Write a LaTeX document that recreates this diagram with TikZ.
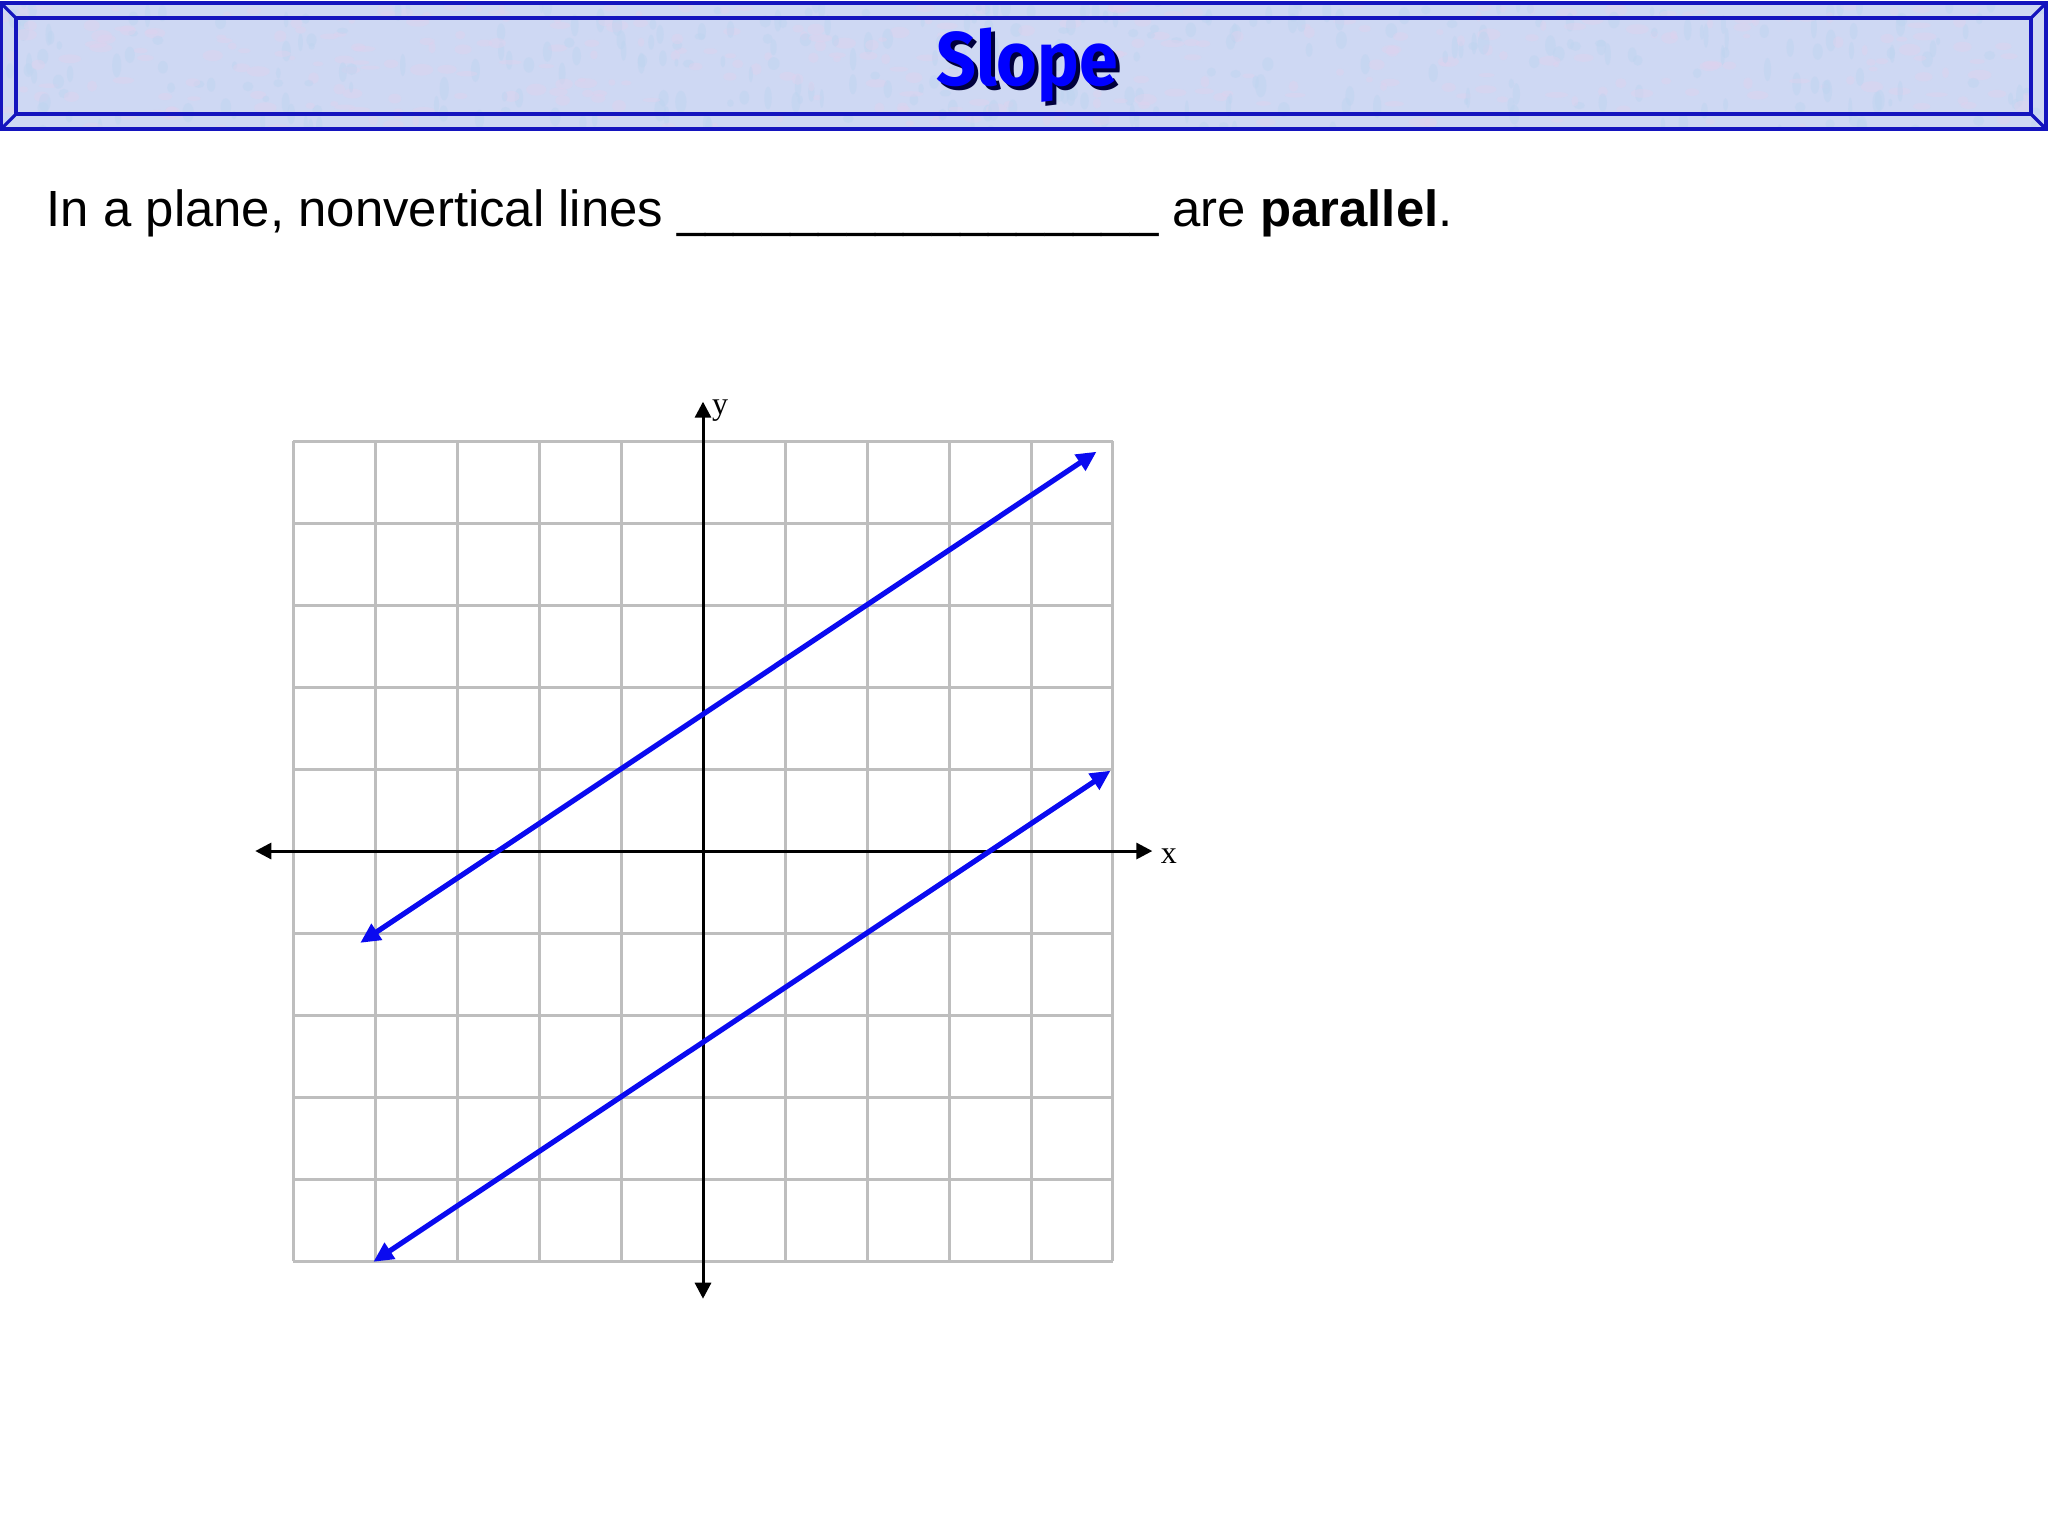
\documentclass[tikz,border=0pt]{standalone}
\usepackage{fontspec}
\setmainfont{Liberation Sans}
\newfontfamily\titlefont{Fira Sans}
\newfontfamily\serifaxis{Liberation Serif}
\usetikzlibrary{arrows.meta}
\definecolor{barfill}{RGB}{206,216,243}
\definecolor{barpink}{RGB}{222,210,238}
\definecolor{barblue}{RGB}{190,212,240}
\definecolor{barline}{RGB}{20,20,190}
\definecolor{gridc}{RGB}{190,190,190}
\definecolor{lineblue}{RGB}{10,10,240}
\definecolor{shadowc}{RGB}{0,0,60}
\tikzset{
  barframe/.style={draw=barline, line width=0.8pt},
  gridlines/.style={draw=gridc, line width=0.75pt},
  axisline/.style={draw=black, line width=0.75pt, {Triangle[length=4pt,width=4pt]}-{Triangle[length=4pt,width=4pt]}},
  bluearrow/.style={draw=lineblue, line width=1.3pt, {Triangle[length=5pt,width=4.6pt]}-{Triangle[length=5pt,width=4.6pt]}},
  axislabel/.style={font=\serifaxis\fontsize{8pt}{9pt}\selectfont, inner sep=0pt},
  titletext/.style={font=\titlefont\bfseries\fontsize{19pt}{22pt}\selectfont, inner sep=0pt}
}
\begin{document}
\begin{tikzpicture}[x=0.25pt,y=-0.25pt]
\useasboundingbox (0,0) rectangle (2048,1536);
\fill[white] (0,0) rectangle (2048,1536);
% title bar
\fill[barfill] (1,3) rectangle (2046,129);
\begin{scope}
  \clip (1,3) rectangle (2046,129);
  \pgfmathsetseed{7}
  \foreach \i in {1,...,700} {
    \pgfmathsetmacro{\px}{rnd*2048}
    \pgfmathsetmacro{\py}{rnd*132}
    \pgfmathsetmacro{\rx}{3+rnd*9}
    \pgfmathsetmacro{\ry}{2+rnd*4}
    \pgfmathsetmacro{\pick}{rnd}
    \ifdim\pick pt<0.5pt
      \fill[barpink, opacity=0.45] (\px,\py) ellipse [x radius=\rx, y radius=\ry];
    \else
      \fill[barblue, opacity=0.45] (\px,\py) ellipse [x radius=\ry, y radius=\rx];
    \fi
  }
\end{scope}
\draw[barframe] (1,3) rectangle (2046,129);
\draw[barframe] (16,18) rectangle (2031,114);
\draw[barframe] (1,3) -- (16,18);
\draw[barframe] (2046,3) -- (2031,18);
\draw[barframe] (1,129) -- (16,114);
\draw[barframe] (2046,129) -- (2031,114);
\node[titletext, text=shadowc] (titleshadow) at (1031,69) {\scalebox{0.92}[1]{Slope}};
\node[titletext, text=blue] (title) at (1027,65) {\scalebox{0.92}[1]{Slope}};
% statement
\node[anchor=base west, inner sep=0pt, font=\fontsize{12.72pt}{15pt}\selectfont] (statement) at (46,226)
  {In a plane, nonvertical lines \_\_\_\_\_\_\_\_\_\_\_\_\_\_\_\_\_ are \textbf{parallel}.};
% graph
\coordinate (O) at (703,851);
\begin{scope}[shift={(O)}, x=20.5pt, y=20.5pt]
  \draw[gridlines, step=1] (-5,-5) grid (5,5);
  \coordinate (xl) at (-5.46,0);
  \coordinate (xr) at (5.48,0);
  \coordinate (yt) at (0,5.48);
  \coordinate (yb) at (0,-5.46);
  \draw[axisline] (xl) -- (xr);
  \draw[axisline] (yb) -- (yt);
  \node[axislabel] (xlab) at (5.68,-0.06) {x};
  \node[axislabel] (ylab) at (0.21,5.37) {y};
  \coordinate (a1) at (-4.18,-1.12);
  \coordinate (a2) at (4.8,4.87);
  \coordinate (b1) at (-4.02,-5.01);
  \coordinate (b2) at (4.97,0.98);
  \draw[bluearrow] (a1) -- (a2);
  \draw[bluearrow] (b1) -- (b2);
\end{scope}
\end{tikzpicture}
\end{document}
